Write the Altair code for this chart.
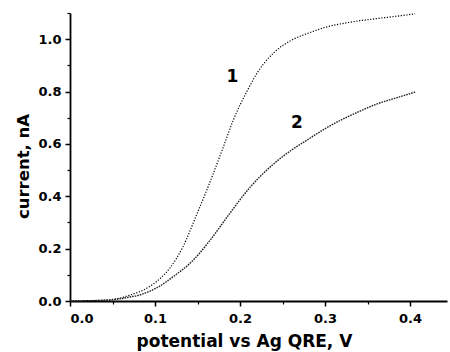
import altair as alt
import pandas as pd

# curve 1
v1 = [0.0, 0.02, 0.04, 0.05, 0.06, 0.071, 0.083, 0.094, 0.106, 0.118, 0.133, 0.149,
      0.159, 0.168, 0.18, 0.192, 0.208, 0.221, 0.241, 0.26, 0.282, 0.3, 0.33, 0.359,
      0.385, 0.406]
i1 = [0.0, 0.001, 0.003, 0.006, 0.012, 0.023, 0.037, 0.056, 0.086, 0.128, 0.208, 0.33,
      0.408, 0.482, 0.585, 0.69, 0.8, 0.875, 0.952, 0.995, 1.025, 1.045, 1.065, 1.078,
      1.088, 1.097]

# curve 2
v2 = [0.0, 0.02, 0.04, 0.05, 0.06, 0.07, 0.082, 0.092, 0.102, 0.121, 0.145, 0.165,
      0.188, 0.212, 0.2235, 0.239, 0.26, 0.279, 0.3, 0.318, 0.339, 0.359, 0.385, 0.406]
i2 = [0.0, 0.001, 0.003, 0.005, 0.009, 0.015, 0.023, 0.035, 0.05, 0.092, 0.156, 0.233,
      0.335, 0.435, 0.475, 0.522, 0.575, 0.615, 0.658, 0.69, 0.722, 0.75, 0.777, 0.798]

# curve labels
label_text = ["1", "2"]
label_v = [0.191, 0.267]
label_i = [0.855, 0.68]

# axis ticks
x_major = [0.0, 0.1, 0.2, 0.3, 0.4]
x_minor = [0.05, 0.15, 0.25, 0.35]
y_major = [0.0, 0.2, 0.4, 0.6, 0.8, 1.0]
y_minor = [0.1, 0.3, 0.5, 0.7, 0.9, 1.1]

FONT = "DejaVu Sans"

df1 = pd.DataFrame({"v": v1, "i": i1})
df2 = pd.DataFrame({"v": v2, "i": i2})
dfl = pd.DataFrame({"v": label_v, "i": label_i, "t": label_text})

xs = alt.Scale(domain=[0, 0.4435], nice=False, zero=False)
ys = alt.Scale(domain=[0, 1.1], nice=False)

x_axis = alt.Axis(values=x_major, format=".1f", tickSize=5, tickWidth=1.5,
                  domainWidth=1.8, domainColor="black", tickColor="black",
                  labelFont=FONT, labelFontWeight="bold", labelFontSize=13,
                  labelColor="black", labelPadding=6, grid=False,
                  title="potential vs Ag QRE, V", titleFont=FONT,
                  titleFontWeight="bold", titleFontSize=17, titleColor="black",
                  titleX=174, titleY=45, titleBaseline="alphabetic",
                  titleAlign="center")
y_axis = alt.Axis(values=y_major, format=".1f", tickSize=5, tickWidth=1.5,
                  domainWidth=1.8, domainColor="black", tickColor="black",
                  labelFont=FONT, labelFontWeight="bold", labelFontSize=13,
                  labelColor="black", labelPadding=4, grid=False,
                  title="current, nA", titleFont=FONT, titleFontWeight="bold",
                  titleFontSize=16.5, titleColor="black", titleX=-42, titleY=153,
                  titleAngle=270, titleBaseline="alphabetic", titleAlign="center")

x_axis_minor = alt.Axis(values=x_minor, orient="bottom", tickSize=3, tickWidth=1.2,
                        tickColor="black", labels=False, domain=False, grid=False,
                        title=None)
y_axis_minor = alt.Axis(values=y_minor, orient="left", tickSize=3, tickWidth=1.2,
                        tickColor="black", labels=False, domain=False, grid=False,
                        title=None)

line1 = alt.Chart(df1).mark_line(color="black", strokeWidth=1.2, interpolate="monotone",
                                 strokeDash=[1.2, 1.6]).encode(
    x=alt.X("v:Q", scale=xs, axis=x_axis),
    y=alt.Y("i:Q", scale=ys, axis=y_axis),
)
line2 = alt.Chart(df2).mark_line(color="#222222", strokeWidth=1.4, interpolate="monotone",
                                 strokeDash=[1.6, 1.0]).encode(
    x=alt.X("v:Q", scale=xs, axis=x_axis_minor),
    y=alt.Y("i:Q", scale=ys, axis=y_axis_minor),
)
labels = alt.Chart(dfl).mark_text(font=FONT, fontWeight="bold", fontSize=17,
                                  color="black", baseline="middle",
                                  align="center").encode(
    x=alt.X("v:Q", scale=xs, axis=None),
    y=alt.Y("i:Q", scale=ys, axis=None),
    text="t:N",
)

chart = alt.layer(line1, line2, labels).resolve_axis(
    x="independent", y="independent"
).properties(
    width=377, height=288,
    autosize=alt.AutoSizeParams(type="none"),
    padding={"left": 70, "top": 13, "right": 3, "bottom": 51},
    background="white",
).configure_view(stroke=None)

chart.save("out.html", embed_options={"renderer": "svg", "actions": False})
